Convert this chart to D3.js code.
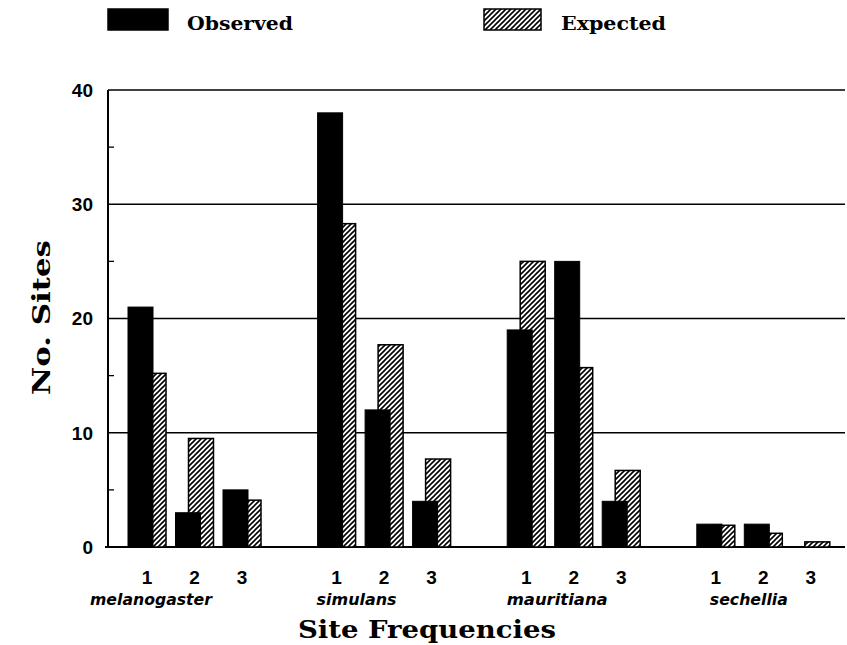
<!DOCTYPE html>
<html>
<head>
<meta charset="utf-8">
<script src="https://cdn.jsdelivr.net/npm/d3@7/dist/d3.min.js"></script>
<style>
  html, body { margin: 0; padding: 0; background: #fff; }
  svg { display: block; }
</style>
</head>
<body>
<svg id="chart" width="847" height="645"></svg>
<script>
// ---------- data ----------
const species = ["melanogaster", "simulans", "mauritiana", "sechellia"];
const frequencies = ["1", "2", "3"];
// values listed species by species, frequency 1..3
const observed = [21, 3, 5,  38, 12, 4,  19, 25, 4,  2, 2, 0];
const expected = [15.2, 9.5, 4.1,  28.3, 17.7, 7.7,  25.0, 15.7, 6.7,  1.9, 1.2, 0.45];
const yTicks = [0, 10, 20, 30, 40];
const yMinorTicks = [5, 15, 25, 35];
const seriesNames = ["Observed", "Expected"];

// ---------- layout ----------
const svg = d3.select("#chart");
const plot = { left: 108, right: 845, top: 90, bottom: 547 };
const obsW = 25, expOffset = 13, expW = 25;
const speciesLabelShift = [4, 20, 31, 33];
const speciesLabelLen = [122, 80, 101, 78];

const y = d3.scaleLinear().domain([0, 40]).range([plot.bottom, plot.top]);
const xOuter = d3.scaleBand().domain(species).range([128, 128 + 4 * 189.6]).padding(0);
const xInner = d3.scaleBand().domain(frequencies).range([0, 133]).paddingInner(0.2).paddingOuter(0);

const rows = [];
species.forEach((s, i) => frequencies.forEach((f, j) => {
  rows.push({ s, f, obs: observed[i * 3 + j], exp: expected[i * 3 + j],
              x: xOuter(s) + xInner(f) });
}));

// hatch pattern
const defs = svg.append("defs");
const pat = defs.append("pattern").attr("id", "hatch")
  .attr("patternUnits", "userSpaceOnUse").attr("width", 5).attr("height", 5);
pat.append("rect").attr("width", 5).attr("height", 5).attr("fill", "#fff");
pat.append("path").attr("d", "M0,5 L5,0 M-1,1 L1,-1 M4,6 L6,4")
  .attr("stroke", "#000").attr("stroke-width", 1.6);

// gridlines (including top frame at 40 and baseline at 0)
svg.append("g").selectAll("line").data(yTicks).join("line")
  .attr("x1", d => d === 0 ? plot.left - 3 : plot.left)
  .attr("x2", plot.right)
  .attr("y1", d => y(d)).attr("y2", d => y(d))
  .attr("stroke", "#000").attr("stroke-width", d => d === 0 ? 2 : 1.5);

// y axis line
svg.append("line").attr("x1", plot.left).attr("x2", plot.left)
  .attr("y1", y(40)).attr("y2", y(0)).attr("stroke", "#000").attr("stroke-width", 2);

// minor ticks
svg.append("g").selectAll("line").data(yMinorTicks).join("line")
  .attr("x1", plot.left).attr("x2", plot.left + 6)
  .attr("y1", d => y(d)).attr("y2", d => y(d))
  .attr("stroke", "#000").attr("stroke-width", 1.3);

// y tick labels
svg.append("g").selectAll("text").data(yTicks).join("text")
  .attr("x", 93).attr("y", d => y(d)).attr("dy", "0.36em")
  .attr("text-anchor", "end")
  .attr("font-family", "Liberation Sans, Arial, sans-serif")
  .attr("font-weight", "bold").attr("font-size", 19)
  .text(d => d);

// expected bars (behind)
svg.append("g").selectAll("rect").data(rows.filter(d => d.exp > 0)).join("rect")
  .attr("x", d => d.x + expOffset).attr("width", expW)
  .attr("y", d => y(d.exp)).attr("height", d => y(0) - y(d.exp))
  .attr("fill", "url(#hatch)").attr("stroke", "#000").attr("stroke-width", 1.5);

// observed bars (front)
svg.append("g").selectAll("rect").data(rows.filter(d => d.obs > 0)).join("rect")
  .attr("x", d => d.x).attr("width", obsW)
  .attr("y", d => y(d.obs)).attr("height", d => y(0) - y(d.obs))
  .attr("fill", "#000").attr("stroke", "#000").attr("stroke-width", 1);

// frequency tick labels
svg.append("g").selectAll("text").data(rows).join("text")
  .attr("x", d => d.x + (expOffset + expW) / 2).attr("y", 584)
  .attr("text-anchor", "middle")
  .attr("font-family", "Liberation Sans, Arial, sans-serif")
  .attr("font-weight", "bold").attr("font-size", 19)
  .text(d => d.f);

// species labels
svg.append("g").selectAll("text").data(species).join("text")
  .attr("x", (d, i) => xOuter(d) + xInner("1") + 19 + speciesLabelShift[i] - speciesLabelLen[i] / 2)
  .attr("y", 605)
  .attr("font-family", "DejaVu Sans, sans-serif")
  .attr("font-weight", "bold").attr("font-style", "italic").attr("font-size", 15)
  .attr("textLength", (d, i) => speciesLabelLen[i]).attr("lengthAdjust", "spacingAndGlyphs")
  .text(d => d);

// axis titles
svg.append("text").attr("x", 298).attr("y", 638)
  .attr("font-family", "DejaVu Serif, serif").attr("font-weight", "bold").attr("font-size", 24)
  .attr("textLength", 258).attr("lengthAdjust", "spacingAndGlyphs")
  .text("Site Frequencies");

svg.append("text")
  .attr("transform", "translate(50,395) rotate(-90)")
  .attr("font-family", "DejaVu Serif, serif").attr("font-weight", "bold").attr("font-size", 24)
  .attr("textLength", 155).attr("lengthAdjust", "spacingAndGlyphs")
  .text("No. Sites");

// legend
const legend = [
  { name: seriesNames[0], rx: 108, rw: 60, tx: 187, tl: 106, fill: "#000" },
  { name: seriesNames[1], rx: 484, rw: 57, tx: 561, tl: 105, fill: "url(#hatch)" }
];
const lg = svg.append("g").selectAll("g").data(legend).join("g");
lg.append("rect").attr("x", d => d.rx).attr("y", 9).attr("width", d => d.rw).attr("height", 21)
  .attr("fill", d => d.fill).attr("stroke", "#000").attr("stroke-width", 1.5);
lg.append("text").attr("x", d => d.tx).attr("y", 30)
  .attr("font-family", "DejaVu Serif, serif").attr("font-weight", "bold").attr("font-size", 19)
  .attr("textLength", d => d.tl).attr("lengthAdjust", "spacingAndGlyphs")
  .text(d => d.name);
</script>
</body>
</html>
